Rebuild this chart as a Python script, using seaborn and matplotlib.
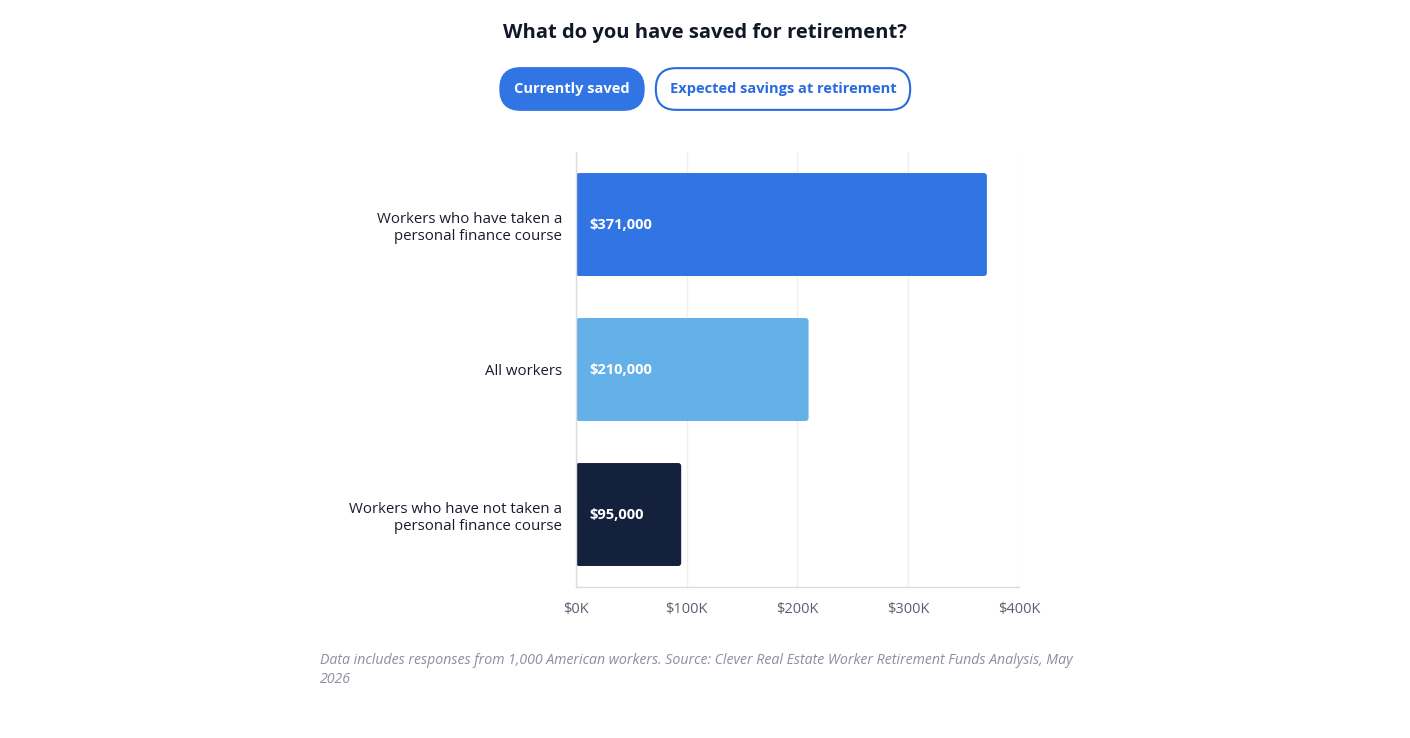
import matplotlib
matplotlib.use('Agg')
import matplotlib.pyplot as plt
import seaborn as sns
import pandas as pd
from matplotlib.patches import FancyBboxPatch

# Dados
groups = ['Workers who have taken a\npersonal finance course',
          'All workers',
          'Workers who have not taken a\npersonal finance course']
saved = [371000, 210000, 95000]
value_labels = ['$371,000', '$210,000', '$95,000']
bar_colors = ['#3174E3', '#64B0E8', '#14213D']
x_ticks = [0, 100000, 200000, 300000, 400000]
x_tick_labels = ['$0K', '$100K', '$200K', '$300K', '$400K']

df = pd.DataFrame({'group': groups, 'saved': saved})

sns.set_style('white')
plt.rcParams['font.family'] = ['Open Sans', 'DejaVu Sans']

fig = plt.figure(figsize=(14.1, 7.38), dpi=100)
ax = fig.add_axes([0.4085, 0.2046, 0.3142, 0.5894])

sns.barplot(data=df, x='saved', y='group', hue='group', palette=bar_colors,
            legend=False, width=0.71, ax=ax, saturation=1)

# cantos arredondados
xpp = 400000 / 443
ypp = 3 / 435
for p, c in zip(list(ax.patches), bar_colors):
    x, y = p.get_x(), p.get_y()
    w, h = p.get_width(), p.get_height()
    p.remove()
    r = FancyBboxPatch((x, y), w, h, boxstyle='round,pad=0,rounding_size=%f' % (3 * xpp),
                       mutation_aspect=ypp / xpp, facecolor=c, edgecolor='none', zorder=2)
    ax.add_patch(r)

for i, lab in enumerate(value_labels):
    ax.annotate(lab, (0, i), xytext=(10, 0), textcoords='offset points',
                ha='left', va='center', color='white', fontsize=10.5, fontweight='bold')

ax.set_xlim(0, 400000)
ax.set_ylim(2.5, -0.5)
ax.set_xticks(x_ticks)
ax.set_xticklabels(x_tick_labels, color='#5a6070', fontsize=10.5)
ax.tick_params(axis='x', length=3, color='#e6e6e6', pad=8)
ax.tick_params(axis='y', length=0, pad=10, labelsize=10.8, labelcolor='#1a1a2e')
for t in ax.get_yticklabels():
    t.set_horizontalalignment('right')
ax.set_xlabel('')
ax.set_ylabel('')
ax.grid(axis='x', color='#efefef', linewidth=1, zorder=0)
ax.set_axisbelow(True)
for s in ['top', 'right']:
    ax.spines[s].set_visible(False)
for s in ['left', 'bottom']:
    ax.spines[s].set_color('#dcdcdc')
    ax.spines[s].set_linewidth(1)

fig.text(705 / 1410, 1 - 33 / 738, 'What do you have saved for retirement?',
         ha='center', va='center', fontsize=14.5, fontweight='bold', color='#111827')

fig.text(572 / 1410, 1 - 89 / 738, 'Currently saved', ha='center', va='center',
         fontsize=10.5, fontweight='bold', color='white',
         bbox=dict(boxstyle='round,pad=0.95,rounding_size=1.4', facecolor='#3174E3',
                   edgecolor='#3174E3', linewidth=1.5))
fig.text(783 / 1410, 1 - 89 / 738, 'Expected savings at retirement', ha='center', va='center',
         fontsize=10.5, fontweight='bold', color='#2a6ae0',
         bbox=dict(boxstyle='round,pad=0.95,rounding_size=1.4', facecolor='white',
                   edgecolor='#2a6ae0', linewidth=1.5))

fig.text(320 / 1410, 1 - 670 / 738,
         'Data includes responses from 1,000 American workers. Source: Clever Real Estate Worker Retirement Funds Analysis, May\n2026',
         ha='left', va='center', fontsize=10.2, style='italic', color='#8a8fa0', linespacing=1.35)

fig.savefig('out.png', dpi=100)
